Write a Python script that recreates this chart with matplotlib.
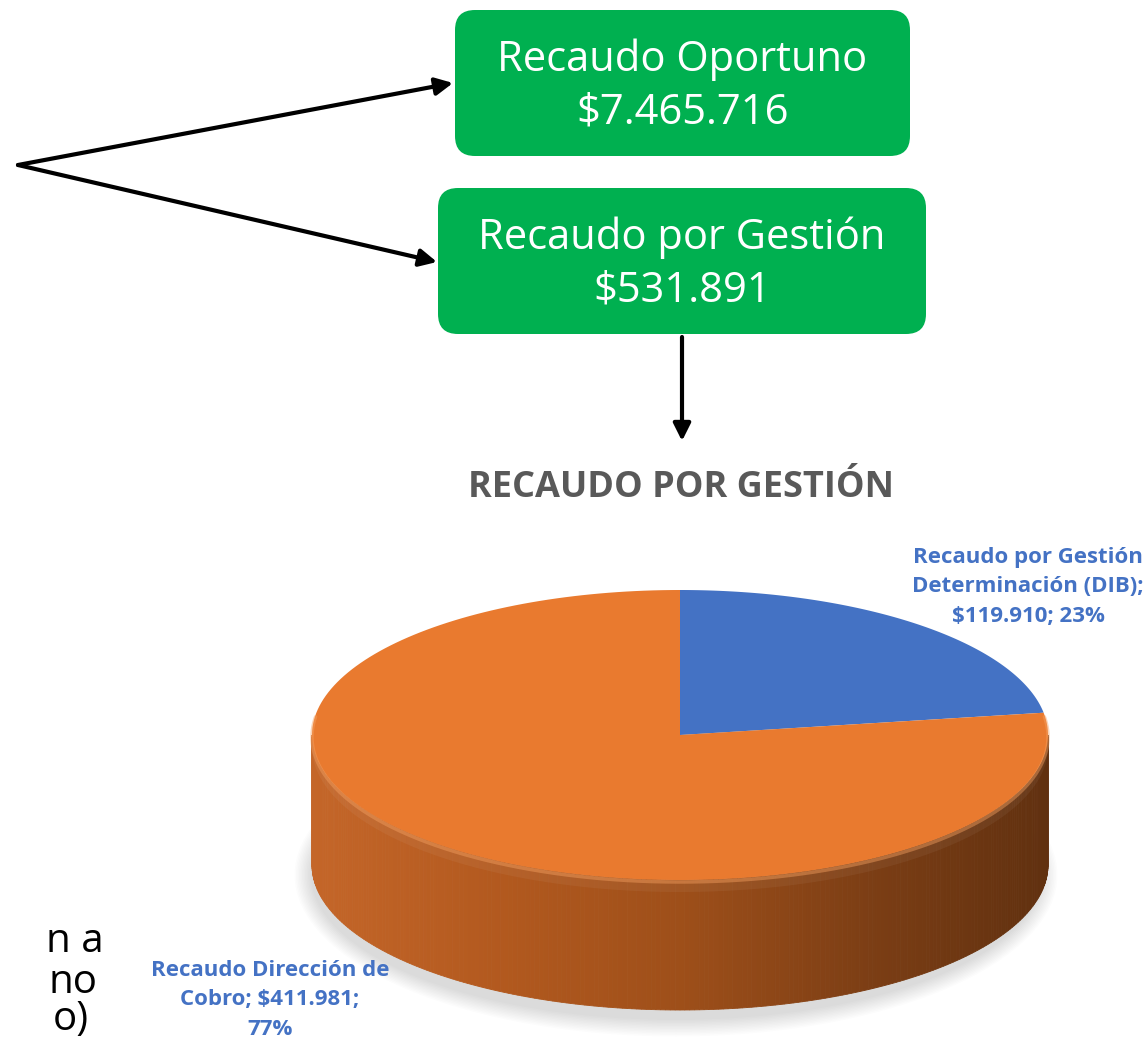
import numpy as np
import matplotlib.pyplot as plt
from matplotlib.patches import FancyBboxPatch, Polygon, Ellipse, FancyArrowPatch

plt.rcParams['font.family'] = ['Open Sans', 'DejaVu Sans']

# data
box_labels = ['Recaudo Oportuno', 'Recaudo por Gestión']
box_values = [7465716, 531891]
slice_names = ['Recaudo por Gestión\nDeterminación (DIB)', 'Recaudo Dirección de\nCobro']
slice_values = [119910, 411981]
slice_colors = ['#4472C4', '#E97A2F']
chart_title = 'RECAUDO POR GESTIÓN'
cut_text = ['n a', 'no', 'o)']


def money(v):
    return '$' + f'{v:,}'.replace(',', '.')


fig = plt.figure(figsize=(11.48, 10.40), dpi=100)
ax = fig.add_axes([0, 0, 1, 1])
ax.set_xlim(0, 1148)
ax.set_ylim(1040, 0)
ax.axis('off')

# green boxes
box_geom = [(455, 10, 455, 146), (438, 188, 488, 146)]
for (x, y, w, h), lab, val in zip(box_geom, box_labels, box_values):
    ax.add_patch(FancyBboxPatch((x, y), w, h, boxstyle='round,pad=0,rounding_size=20',
                                fc='#00B050', ec='none'))
    ax.text(x + w / 2, y + 50, lab, color='white', fontsize=30, ha='center', va='center')
    ax.text(x + w / 2, y + 103, money(val), color='white', fontsize=30, ha='center', va='center')

# arrows
arrow_kw = dict(arrowstyle='-|>', mutation_scale=26, lw=3, color='black', shrinkA=0, shrinkB=0)
ax.add_patch(FancyArrowPatch((18, 165), (453, 83), **arrow_kw))
ax.add_patch(FancyArrowPatch((18, 165), (437, 262), **arrow_kw))
ax.add_patch(FancyArrowPatch((682, 337), (682, 441), **arrow_kw))

# cut-off text at the left border
for s, (xr, yb) in zip(cut_text, [(104, 952), (98, 993), (89, 1030)]):
    ax.text(xr, yb, s, fontsize=29, ha='right', va='baseline', color='black')

# title
ax.text(681, 488, chart_title, fontsize=26, fontweight='bold', color='#595959',
        ha='center', va='center')

# 3D pie
cx, cy, rx, ry, depth = 680, 735, 368, 145, 130


def pt(t, dy=0.0):
    return cx + rx * np.cos(np.radians(t)), cy - ry * np.sin(np.radians(t)) + dy


# soft shadow, mostly below and to the left
for k in range(12):
    ax.add_patch(Ellipse((cx - 4, cy + depth + 10), 2 * rx - 6 + 3 * k, 2 * ry + 3 * k,
                         fc='#000000', ec='none', alpha=0.013))

# side of the cylinder, shaded left to right
stops_x = [cx - rx, cx - 180, cx, cx + 200, cx + rx]
stops_c = [(0.77, 0.40, 0.16), (0.70, 0.35, 0.12), (0.62, 0.31, 0.10),
           (0.48, 0.24, 0.08), (0.38, 0.19, 0.06)]
ts = np.linspace(180, 360, 241)
for a, b in zip(ts[:-1], ts[1:]):
    xa, ya = pt(a)
    xb, yb = pt(b)
    xm = (xa + xb) / 2
    col = [np.interp(xm, stops_x, [c[i] for c in stops_c]) for i in range(3)]
    ax.add_patch(Polygon([(xa, ya), (xb, yb), (xb, yb + depth), (xa, ya + depth)],
                         closed=True, fc=col, ec=col, lw=0.6))
# lighter band just under the rim
for a, b in zip(ts[:-1], ts[1:]):
    xa, ya = pt(a)
    xb, yb = pt(b)
    ax.add_patch(Polygon([(xa, ya), (xb, yb), (xb, yb + 12), (xa, ya + 12)],
                         closed=True, fc='white', ec='none', alpha=0.05))

# top face wedges, clockwise from 12 o'clock
total = sum(slice_values)
start = 90.0
for val, col in zip(slice_values, slice_colors):
    sweep = 360.0 * val / total
    tt = np.linspace(start, start - sweep, 200)
    xs, ys = pt(tt)
    verts = [(cx, cy)] + list(zip(xs, ys))
    ax.add_patch(Polygon(verts, closed=True, fc=col, ec='none'))
    start -= sweep

# soft rim highlight on the front edge of the top face
tt = np.linspace(172, 368, 300)
xs, ys = pt(tt)
ax.plot(xs, ys + 2, color='#F5A060', lw=2.5, alpha=0.45, solid_capstyle='round')

# slice labels
pcts = [round(100 * v / total) for v in slice_values]
lab_pos = [(1028, 587), (270, 1000)]
for i, (name, val, p, (x, y)) in enumerate(zip(slice_names, slice_values, pcts, lab_pos)):
    if i == 0:
        txt = f'{name};\n{money(val)}; {p}%'
    else:
        txt = f'{name}; {money(val)};\n{p}%'
    ax.text(x, y, txt, fontsize=16, fontweight='bold', color='#4472C4',
            ha='center', va='center', linespacing=1.55)

fig.savefig('out.png', dpi=100)
